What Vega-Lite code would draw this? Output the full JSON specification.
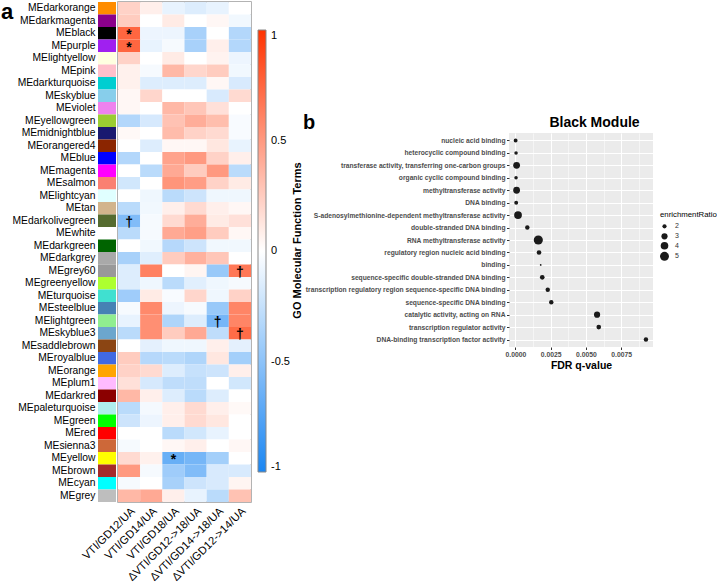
{
  "$schema": "https://vega.github.io/schema/vega-lite/v6.json",
  "padding": {"left": 1, "top": 1, "right": 0, "bottom": 0},
  "config": {"font": "Liberation Sans", "view": {"stroke": null}},
  "datasets": {
    "mods": [
      {"module": "MEdarkorange", "hex": "#FF8C00"}, {"module": "MEdarkmagenta", "hex": "#8B008B"},
      {"module": "MEblack", "hex": "#000000"}, {"module": "MEpurple", "hex": "#A020F0"},
      {"module": "MElightyellow", "hex": "#FFFFE0"}, {"module": "MEpink", "hex": "#FFC0CB"},
      {"module": "MEdarkturquoise", "hex": "#00CED1"}, {"module": "MEskyblue", "hex": "#87CEEB"},
      {"module": "MEviolet", "hex": "#EE82EE"}, {"module": "MEyellowgreen", "hex": "#9ACD32"},
      {"module": "MEmidnightblue", "hex": "#191970"}, {"module": "MEorangered4", "hex": "#8B2500"},
      {"module": "MEblue", "hex": "#0000FF"}, {"module": "MEmagenta", "hex": "#FF00FF"},
      {"module": "MEsalmon", "hex": "#FA8072"}, {"module": "MElightcyan", "hex": "#E0FFFF"},
      {"module": "MEtan", "hex": "#D2B48C"}, {"module": "MEdarkolivegreen", "hex": "#556B2F"},
      {"module": "MEwhite", "hex": "#FFFFFF"}, {"module": "MEdarkgreen", "hex": "#006400"},
      {"module": "MEdarkgrey", "hex": "#A9A9A9"}, {"module": "MEgrey60", "hex": "#999999"},
      {"module": "MEgreenyellow", "hex": "#ADFF2F"}, {"module": "MEturquoise", "hex": "#40E0D0"},
      {"module": "MEsteelblue", "hex": "#4682B4"}, {"module": "MElightgreen", "hex": "#90EE90"},
      {"module": "MEskyblue3", "hex": "#6CA6CD"}, {"module": "MEsaddlebrown", "hex": "#8B4513"},
      {"module": "MEroyalblue", "hex": "#4169E1"}, {"module": "MEorange", "hex": "#FFA500"},
      {"module": "MEplum1", "hex": "#FFBBFF"}, {"module": "MEdarkred", "hex": "#8B0000"},
      {"module": "MEpaleturquoise", "hex": "#AFEEEE"}, {"module": "MEgreen", "hex": "#00FF00"},
      {"module": "MEred", "hex": "#FF0000"}, {"module": "MEsienna3", "hex": "#CD6839"},
      {"module": "MEyellow", "hex": "#FFFF00"}, {"module": "MEbrown", "hex": "#A52A2A"},
      {"module": "MEcyan", "hex": "#00FFFF"}, {"module": "MEgrey", "hex": "#BEBEBE"}
    ],
    "heat": [
      {"m":"MEdarkorange","c":"VTI/GD12/UA","r":0.22,"s":""},{"m":"MEdarkorange","c":"VTI/GD14/UA","r":0.08,"s":""},{"m":"MEdarkorange","c":"VTI/GD18/UA","r":-0.1,"s":""},{"m":"MEdarkorange","c":"ΔVTI/GD12->18/UA","r":-0.15,"s":""},{"m":"MEdarkorange","c":"ΔVTI/GD14->18/UA","r":-0.1,"s":""},{"m":"MEdarkorange","c":"ΔVTI/GD12->14/UA","r":0,"s":""},
      {"m":"MEdarkmagenta","c":"VTI/GD12/UA","r":0.25,"s":""},{"m":"MEdarkmagenta","c":"VTI/GD14/UA","r":0,"s":""},{"m":"MEdarkmagenta","c":"VTI/GD18/UA","r":0.1,"s":""},{"m":"MEdarkmagenta","c":"ΔVTI/GD12->18/UA","r":0,"s":""},{"m":"MEdarkmagenta","c":"ΔVTI/GD14->18/UA","r":0.04,"s":""},{"m":"MEdarkmagenta","c":"ΔVTI/GD12->14/UA","r":-0.06,"s":""},
      {"m":"MEblack","c":"VTI/GD12/UA","r":0.75,"s":"*"},{"m":"MEblack","c":"VTI/GD14/UA","r":-0.08,"s":""},{"m":"MEblack","c":"VTI/GD18/UA","r":-0.08,"s":""},{"m":"MEblack","c":"ΔVTI/GD12->18/UA","r":-0.38,"s":""},{"m":"MEblack","c":"ΔVTI/GD14->18/UA","r":0,"s":""},{"m":"MEblack","c":"ΔVTI/GD12->14/UA","r":-0.33,"s":""},
      {"m":"MEpurple","c":"VTI/GD12/UA","r":0.75,"s":"*"},{"m":"MEpurple","c":"VTI/GD14/UA","r":-0.1,"s":""},{"m":"MEpurple","c":"VTI/GD18/UA","r":-0.04,"s":""},{"m":"MEpurple","c":"ΔVTI/GD12->18/UA","r":-0.38,"s":""},{"m":"MEpurple","c":"ΔVTI/GD14->18/UA","r":0.08,"s":""},{"m":"MEpurple","c":"ΔVTI/GD12->14/UA","r":-0.33,"s":""},
      {"m":"MElightyellow","c":"VTI/GD12/UA","r":0.22,"s":""},{"m":"MElightyellow","c":"VTI/GD14/UA","r":0,"s":""},{"m":"MElightyellow","c":"VTI/GD18/UA","r":0.1,"s":""},{"m":"MElightyellow","c":"ΔVTI/GD12->18/UA","r":0,"s":""},{"m":"MElightyellow","c":"ΔVTI/GD14->18/UA","r":0.06,"s":""},{"m":"MElightyellow","c":"ΔVTI/GD12->14/UA","r":-0.08,"s":""},
      {"m":"MEpink","c":"VTI/GD12/UA","r":0.07,"s":""},{"m":"MEpink","c":"VTI/GD14/UA","r":-0.04,"s":""},{"m":"MEpink","c":"VTI/GD18/UA","r":0.35,"s":""},{"m":"MEpink","c":"ΔVTI/GD12->18/UA","r":0.2,"s":""},{"m":"MEpink","c":"ΔVTI/GD14->18/UA","r":0.25,"s":""},{"m":"MEpink","c":"ΔVTI/GD12->14/UA","r":-0.06,"s":""},
      {"m":"MEdarkturquoise","c":"VTI/GD12/UA","r":0.07,"s":""},{"m":"MEdarkturquoise","c":"VTI/GD14/UA","r":-0.15,"s":""},{"m":"MEdarkturquoise","c":"VTI/GD18/UA","r":-0.15,"s":""},{"m":"MEdarkturquoise","c":"ΔVTI/GD12->18/UA","r":-0.15,"s":""},{"m":"MEdarkturquoise","c":"ΔVTI/GD14->18/UA","r":0.04,"s":""},{"m":"MEdarkturquoise","c":"ΔVTI/GD12->14/UA","r":-0.17,"s":""},
      {"m":"MEskyblue","c":"VTI/GD12/UA","r":0.04,"s":""},{"m":"MEskyblue","c":"VTI/GD14/UA","r":0.2,"s":""},{"m":"MEskyblue","c":"VTI/GD18/UA","r":0,"s":""},{"m":"MEskyblue","c":"ΔVTI/GD12->18/UA","r":0,"s":""},{"m":"MEskyblue","c":"ΔVTI/GD14->18/UA","r":-0.17,"s":""},{"m":"MEskyblue","c":"ΔVTI/GD12->14/UA","r":0.18,"s":""},
      {"m":"MEviolet","c":"VTI/GD12/UA","r":0.04,"s":""},{"m":"MEviolet","c":"VTI/GD14/UA","r":0,"s":""},{"m":"MEviolet","c":"VTI/GD18/UA","r":0.35,"s":""},{"m":"MEviolet","c":"ΔVTI/GD12->18/UA","r":0.28,"s":""},{"m":"MEviolet","c":"ΔVTI/GD14->18/UA","r":0.15,"s":""},{"m":"MEviolet","c":"ΔVTI/GD12->14/UA","r":0,"s":""},
      {"m":"MEyellowgreen","c":"VTI/GD12/UA","r":-0.33,"s":""},{"m":"MEyellowgreen","c":"VTI/GD14/UA","r":-0.18,"s":""},{"m":"MEyellowgreen","c":"VTI/GD18/UA","r":0.3,"s":""},{"m":"MEyellowgreen","c":"ΔVTI/GD12->18/UA","r":0.4,"s":""},{"m":"MEyellowgreen","c":"ΔVTI/GD14->18/UA","r":0.32,"s":""},{"m":"MEyellowgreen","c":"ΔVTI/GD12->14/UA","r":-0.03,"s":""},
      {"m":"MEmidnightblue","c":"VTI/GD12/UA","r":0.03,"s":""},{"m":"MEmidnightblue","c":"VTI/GD14/UA","r":0,"s":""},{"m":"MEmidnightblue","c":"VTI/GD18/UA","r":0.33,"s":""},{"m":"MEmidnightblue","c":"ΔVTI/GD12->18/UA","r":0.22,"s":""},{"m":"MEmidnightblue","c":"ΔVTI/GD14->18/UA","r":0.18,"s":""},{"m":"MEmidnightblue","c":"ΔVTI/GD12->14/UA","r":-0.03,"s":""},
      {"m":"MEorangered4","c":"VTI/GD12/UA","r":0,"s":""},{"m":"MEorangered4","c":"VTI/GD14/UA","r":-0.15,"s":""},{"m":"MEorangered4","c":"VTI/GD18/UA","r":0.04,"s":""},{"m":"MEorangered4","c":"ΔVTI/GD12->18/UA","r":0.04,"s":""},{"m":"MEorangered4","c":"ΔVTI/GD14->18/UA","r":0.12,"s":""},{"m":"MEorangered4","c":"ΔVTI/GD12->14/UA","r":-0.1,"s":""},
      {"m":"MEblue","c":"VTI/GD12/UA","r":-0.33,"s":""},{"m":"MEblue","c":"VTI/GD14/UA","r":0,"s":""},{"m":"MEblue","c":"VTI/GD18/UA","r":0.45,"s":""},{"m":"MEblue","c":"ΔVTI/GD12->18/UA","r":0.5,"s":""},{"m":"MEblue","c":"ΔVTI/GD14->18/UA","r":0.22,"s":""},{"m":"MEblue","c":"ΔVTI/GD12->14/UA","r":0.08,"s":""},
      {"m":"MEmagenta","c":"VTI/GD12/UA","r":0,"s":""},{"m":"MEmagenta","c":"VTI/GD14/UA","r":-0.3,"s":""},{"m":"MEmagenta","c":"VTI/GD18/UA","r":0.42,"s":""},{"m":"MEmagenta","c":"ΔVTI/GD12->18/UA","r":0.25,"s":""},{"m":"MEmagenta","c":"ΔVTI/GD14->18/UA","r":0.5,"s":""},{"m":"MEmagenta","c":"ΔVTI/GD12->14/UA","r":-0.3,"s":""},
      {"m":"MEsalmon","c":"VTI/GD12/UA","r":-0.2,"s":""},{"m":"MEsalmon","c":"VTI/GD14/UA","r":0,"s":""},{"m":"MEsalmon","c":"VTI/GD18/UA","r":0.52,"s":""},{"m":"MEsalmon","c":"ΔVTI/GD12->18/UA","r":0.48,"s":""},{"m":"MEsalmon","c":"ΔVTI/GD14->18/UA","r":0.22,"s":""},{"m":"MEsalmon","c":"ΔVTI/GD12->14/UA","r":0.1,"s":""},
      {"m":"MElightcyan","c":"VTI/GD12/UA","r":0,"s":""},{"m":"MElightcyan","c":"VTI/GD14/UA","r":-0.07,"s":""},{"m":"MElightcyan","c":"VTI/GD18/UA","r":-0.3,"s":""},{"m":"MElightcyan","c":"ΔVTI/GD12->18/UA","r":-0.22,"s":""},{"m":"MElightcyan","c":"ΔVTI/GD14->18/UA","r":-0.07,"s":""},{"m":"MElightcyan","c":"ΔVTI/GD12->14/UA","r":-0.07,"s":""},
      {"m":"MEtan","c":"VTI/GD12/UA","r":-0.3,"s":""},{"m":"MEtan","c":"VTI/GD14/UA","r":-0.06,"s":""},{"m":"MEtan","c":"VTI/GD18/UA","r":0.08,"s":""},{"m":"MEtan","c":"ΔVTI/GD12->18/UA","r":0.18,"s":""},{"m":"MEtan","c":"ΔVTI/GD14->18/UA","r":0.08,"s":""},{"m":"MEtan","c":"ΔVTI/GD12->14/UA","r":0.04,"s":""},
      {"m":"MEdarkolivegreen","c":"VTI/GD12/UA","r":-0.55,"s":"†"},{"m":"MEdarkolivegreen","c":"VTI/GD14/UA","r":-0.04,"s":""},{"m":"MEdarkolivegreen","c":"VTI/GD18/UA","r":0.18,"s":""},{"m":"MEdarkolivegreen","c":"ΔVTI/GD12->18/UA","r":0.4,"s":""},{"m":"MEdarkolivegreen","c":"ΔVTI/GD14->18/UA","r":0.1,"s":""},{"m":"MEdarkolivegreen","c":"ΔVTI/GD12->14/UA","r":0.15,"s":""},
      {"m":"MEwhite","c":"VTI/GD12/UA","r":-0.3,"s":""},{"m":"MEwhite","c":"VTI/GD14/UA","r":-0.04,"s":""},{"m":"MEwhite","c":"VTI/GD18/UA","r":0.42,"s":""},{"m":"MEwhite","c":"ΔVTI/GD12->18/UA","r":0.47,"s":""},{"m":"MEwhite","c":"ΔVTI/GD14->18/UA","r":0.25,"s":""},{"m":"MEwhite","c":"ΔVTI/GD12->14/UA","r":0.04,"s":""},
      {"m":"MEdarkgreen","c":"VTI/GD12/UA","r":0,"s":""},{"m":"MEdarkgreen","c":"VTI/GD14/UA","r":-0.06,"s":""},{"m":"MEdarkgreen","c":"VTI/GD18/UA","r":-0.32,"s":""},{"m":"MEdarkgreen","c":"ΔVTI/GD12->18/UA","r":-0.22,"s":""},{"m":"MEdarkgreen","c":"ΔVTI/GD14->18/UA","r":-0.06,"s":""},{"m":"MEdarkgreen","c":"ΔVTI/GD12->14/UA","r":-0.06,"s":""},
      {"m":"MEdarkgrey","c":"VTI/GD12/UA","r":-0.38,"s":""},{"m":"MEdarkgrey","c":"VTI/GD14/UA","r":-0.14,"s":""},{"m":"MEdarkgrey","c":"VTI/GD18/UA","r":0.25,"s":""},{"m":"MEdarkgrey","c":"ΔVTI/GD12->18/UA","r":0.38,"s":""},{"m":"MEdarkgrey","c":"ΔVTI/GD14->18/UA","r":0.28,"s":""},{"m":"MEdarkgrey","c":"ΔVTI/GD12->14/UA","r":0,"s":""},
      {"m":"MEgrey60","c":"VTI/GD12/UA","r":-0.15,"s":""},{"m":"MEgrey60","c":"VTI/GD14/UA","r":0.62,"s":""},{"m":"MEgrey60","c":"VTI/GD18/UA","r":0,"s":""},{"m":"MEgrey60","c":"ΔVTI/GD12->18/UA","r":0.05,"s":""},{"m":"MEgrey60","c":"ΔVTI/GD14->18/UA","r":-0.45,"s":""},{"m":"MEgrey60","c":"ΔVTI/GD12->14/UA","r":0.66,"s":"†"},
      {"m":"MEgreenyellow","c":"VTI/GD12/UA","r":-0.15,"s":""},{"m":"MEgreenyellow","c":"VTI/GD14/UA","r":-0.07,"s":""},{"m":"MEgreenyellow","c":"VTI/GD18/UA","r":-0.3,"s":""},{"m":"MEgreenyellow","c":"ΔVTI/GD12->18/UA","r":-0.13,"s":""},{"m":"MEgreenyellow","c":"ΔVTI/GD14->18/UA","r":-0.07,"s":""},{"m":"MEgreenyellow","c":"ΔVTI/GD12->14/UA","r":-0.04,"s":""},
      {"m":"MEturquoise","c":"VTI/GD12/UA","r":-0.42,"s":""},{"m":"MEturquoise","c":"VTI/GD14/UA","r":0.1,"s":""},{"m":"MEturquoise","c":"VTI/GD18/UA","r":-0.03,"s":""},{"m":"MEturquoise","c":"ΔVTI/GD12->18/UA","r":0.2,"s":""},{"m":"MEturquoise","c":"ΔVTI/GD14->18/UA","r":-0.07,"s":""},{"m":"MEturquoise","c":"ΔVTI/GD12->14/UA","r":0.22,"s":""},
      {"m":"MEsteelblue","c":"VTI/GD12/UA","r":-0.04,"s":""},{"m":"MEsteelblue","c":"VTI/GD14/UA","r":0.58,"s":""},{"m":"MEsteelblue","c":"VTI/GD18/UA","r":-0.08,"s":""},{"m":"MEsteelblue","c":"ΔVTI/GD12->18/UA","r":-0.04,"s":""},{"m":"MEsteelblue","c":"ΔVTI/GD14->18/UA","r":-0.45,"s":""},{"m":"MEsteelblue","c":"ΔVTI/GD12->14/UA","r":0.6,"s":""},
      {"m":"MElightgreen","c":"VTI/GD12/UA","r":-0.1,"s":""},{"m":"MElightgreen","c":"VTI/GD14/UA","r":0.55,"s":""},{"m":"MElightgreen","c":"VTI/GD18/UA","r":-0.35,"s":""},{"m":"MElightgreen","c":"ΔVTI/GD12->18/UA","r":-0.15,"s":""},{"m":"MElightgreen","c":"ΔVTI/GD14->18/UA","r":-0.6,"s":"†"},{"m":"MElightgreen","c":"ΔVTI/GD12->14/UA","r":0.6,"s":""},
      {"m":"MEskyblue3","c":"VTI/GD12/UA","r":-0.3,"s":""},{"m":"MEskyblue3","c":"VTI/GD14/UA","r":0.55,"s":""},{"m":"MEskyblue3","c":"VTI/GD18/UA","r":0.25,"s":""},{"m":"MEskyblue3","c":"ΔVTI/GD12->18/UA","r":0.42,"s":""},{"m":"MEskyblue3","c":"ΔVTI/GD14->18/UA","r":-0.28,"s":""},{"m":"MEskyblue3","c":"ΔVTI/GD12->14/UA","r":0.72,"s":"†"},
      {"m":"MEsaddlebrown","c":"VTI/GD12/UA","r":0,"s":""},{"m":"MEsaddlebrown","c":"VTI/GD14/UA","r":-0.12,"s":""},{"m":"MEsaddlebrown","c":"VTI/GD18/UA","r":-0.07,"s":""},{"m":"MEsaddlebrown","c":"ΔVTI/GD12->18/UA","r":-0.07,"s":""},{"m":"MEsaddlebrown","c":"ΔVTI/GD14->18/UA","r":0.08,"s":""},{"m":"MEsaddlebrown","c":"ΔVTI/GD12->14/UA","r":-0.12,"s":""},
      {"m":"MEroyalblue","c":"VTI/GD12/UA","r":0.25,"s":""},{"m":"MEroyalblue","c":"VTI/GD14/UA","r":-0.32,"s":""},{"m":"MEroyalblue","c":"VTI/GD18/UA","r":-0.3,"s":""},{"m":"MEroyalblue","c":"ΔVTI/GD12->18/UA","r":-0.35,"s":""},{"m":"MEroyalblue","c":"ΔVTI/GD14->18/UA","r":0.12,"s":""},{"m":"MEroyalblue","c":"ΔVTI/GD12->14/UA","r":-0.4,"s":""},
      {"m":"MEorange","c":"VTI/GD12/UA","r":0.22,"s":""},{"m":"MEorange","c":"VTI/GD14/UA","r":0.18,"s":""},{"m":"MEorange","c":"VTI/GD18/UA","r":-0.15,"s":""},{"m":"MEorange","c":"ΔVTI/GD12->18/UA","r":-0.25,"s":""},{"m":"MEorange","c":"ΔVTI/GD14->18/UA","r":-0.22,"s":""},{"m":"MEorange","c":"ΔVTI/GD12->14/UA","r":0.08,"s":""},
      {"m":"MEplum1","c":"VTI/GD12/UA","r":0.15,"s":""},{"m":"MEplum1","c":"VTI/GD14/UA","r":-0.18,"s":""},{"m":"MEplum1","c":"VTI/GD18/UA","r":-0.28,"s":""},{"m":"MEplum1","c":"ΔVTI/GD12->18/UA","r":-0.28,"s":""},{"m":"MEplum1","c":"ΔVTI/GD14->18/UA","r":0,"s":""},{"m":"MEplum1","c":"ΔVTI/GD12->14/UA","r":-0.2,"s":""},
      {"m":"MEdarkred","c":"VTI/GD12/UA","r":0.35,"s":""},{"m":"MEdarkred","c":"VTI/GD14/UA","r":0.08,"s":""},{"m":"MEdarkred","c":"VTI/GD18/UA","r":-0.15,"s":""},{"m":"MEdarkred","c":"ΔVTI/GD12->18/UA","r":-0.3,"s":""},{"m":"MEdarkred","c":"ΔVTI/GD14->18/UA","r":-0.15,"s":""},{"m":"MEdarkred","c":"ΔVTI/GD12->14/UA","r":0,"s":""},
      {"m":"MEpaleturquoise","c":"VTI/GD12/UA","r":-0.3,"s":""},{"m":"MEpaleturquoise","c":"VTI/GD14/UA","r":-0.05,"s":""},{"m":"MEpaleturquoise","c":"VTI/GD18/UA","r":0.08,"s":""},{"m":"MEpaleturquoise","c":"ΔVTI/GD12->18/UA","r":0.18,"s":""},{"m":"MEpaleturquoise","c":"ΔVTI/GD14->18/UA","r":0.08,"s":""},{"m":"MEpaleturquoise","c":"ΔVTI/GD12->14/UA","r":0.03,"s":""},
      {"m":"MEgreen","c":"VTI/GD12/UA","r":-0.22,"s":""},{"m":"MEgreen","c":"VTI/GD14/UA","r":-0.08,"s":""},{"m":"MEgreen","c":"VTI/GD18/UA","r":0.08,"s":""},{"m":"MEgreen","c":"ΔVTI/GD12->18/UA","r":0.18,"s":""},{"m":"MEgreen","c":"ΔVTI/GD14->18/UA","r":0.12,"s":""},{"m":"MEgreen","c":"ΔVTI/GD12->14/UA","r":0,"s":""},
      {"m":"MEred","c":"VTI/GD12/UA","r":0,"s":""},{"m":"MEred","c":"VTI/GD14/UA","r":0,"s":""},{"m":"MEred","c":"VTI/GD18/UA","r":-0.3,"s":""},{"m":"MEred","c":"ΔVTI/GD12->18/UA","r":-0.2,"s":""},{"m":"MEred","c":"ΔVTI/GD14->18/UA","r":-0.1,"s":""},{"m":"MEred","c":"ΔVTI/GD12->14/UA","r":0,"s":""},
      {"m":"MEsienna3","c":"VTI/GD12/UA","r":-0.04,"s":""},{"m":"MEsienna3","c":"VTI/GD14/UA","r":0,"s":""},{"m":"MEsienna3","c":"VTI/GD18/UA","r":0.04,"s":""},{"m":"MEsienna3","c":"ΔVTI/GD12->18/UA","r":0.08,"s":""},{"m":"MEsienna3","c":"ΔVTI/GD14->18/UA","r":0,"s":""},{"m":"MEsienna3","c":"ΔVTI/GD12->14/UA","r":0.04,"s":""},
      {"m":"MEyellow","c":"VTI/GD12/UA","r":0.18,"s":""},{"m":"MEyellow","c":"VTI/GD14/UA","r":0.07,"s":""},{"m":"MEyellow","c":"VTI/GD18/UA","r":-0.66,"s":"*"},{"m":"MEyellow","c":"ΔVTI/GD12->18/UA","r":-0.6,"s":""},{"m":"MEyellow","c":"ΔVTI/GD14->18/UA","r":-0.4,"s":""},{"m":"MEyellow","c":"ΔVTI/GD12->14/UA","r":0,"s":""},
      {"m":"MEbrown","c":"VTI/GD12/UA","r":0.5,"s":""},{"m":"MEbrown","c":"VTI/GD14/UA","r":-0.04,"s":""},{"m":"MEbrown","c":"VTI/GD18/UA","r":-0.42,"s":""},{"m":"MEbrown","c":"ΔVTI/GD12->18/UA","r":-0.55,"s":""},{"m":"MEbrown","c":"ΔVTI/GD14->18/UA","r":-0.17,"s":""},{"m":"MEbrown","c":"ΔVTI/GD12->14/UA","r":-0.17,"s":""},
      {"m":"MEcyan","c":"VTI/GD12/UA","r":-0.04,"s":""},{"m":"MEcyan","c":"VTI/GD14/UA","r":0,"s":""},{"m":"MEcyan","c":"VTI/GD18/UA","r":-0.38,"s":""},{"m":"MEcyan","c":"ΔVTI/GD12->18/UA","r":-0.22,"s":""},{"m":"MEcyan","c":"ΔVTI/GD14->18/UA","r":-0.17,"s":""},{"m":"MEcyan","c":"ΔVTI/GD12->14/UA","r":0.05,"s":""},
      {"m":"MEgrey","c":"VTI/GD12/UA","r":0.35,"s":""},{"m":"MEgrey","c":"VTI/GD14/UA","r":0.42,"s":""},{"m":"MEgrey","c":"VTI/GD18/UA","r":0.08,"s":""},{"m":"MEgrey","c":"ΔVTI/GD12->18/UA","r":-0.1,"s":""},{"m":"MEgrey","c":"ΔVTI/GD14->18/UA","r":-0.3,"s":""},{"m":"MEgrey","c":"ΔVTI/GD12->14/UA","r":0.3,"s":""}
    ],
    "go": [
      {"term": "nucleic acid binding", "fdr": 0.00001, "ratio": 1.9},
      {"term": "heterocyclic compound binding", "fdr": 0.00004, "ratio": 1.75},
      {"term": "transferase activity, transferring one-carbon groups", "fdr": 0.00008, "ratio": 3.4},
      {"term": "organic cyclic compound binding", "fdr": 0.00004, "ratio": 1.75},
      {"term": "methyltransferase activity", "fdr": 0.00008, "ratio": 3.4},
      {"term": "DNA binding", "fdr": 0.00005, "ratio": 1.9},
      {"term": "S-adenosylmethionine-dependent methyltransferase activity", "fdr": 0.00018, "ratio": 4.1},
      {"term": "double-stranded DNA binding", "fdr": 0.00084, "ratio": 2.1},
      {"term": "RNA methyltransferase activity", "fdr": 0.00162, "ratio": 5.2},
      {"term": "regulatory region nucleic acid binding", "fdr": 0.00167, "ratio": 2.2},
      {"term": "binding", "fdr": 0.00179, "ratio": 1.3},
      {"term": "sequence-specific double-stranded DNA binding", "fdr": 0.0019, "ratio": 2.2},
      {"term": "transcription regulatory region sequence-specific DNA binding", "fdr": 0.00229, "ratio": 2.1},
      {"term": "sequence-specific DNA binding", "fdr": 0.00254, "ratio": 2.1},
      {"term": "catalytic activity, acting on RNA", "fdr": 0.00579, "ratio": 3.0},
      {"term": "transcription regulator activity", "fdr": 0.00591, "ratio": 2.2},
      {"term": "DNA-binding transcription factor activity", "fdr": 0.00926, "ratio": 2.1}
    ]
  },
  "hconcat": [
    {
      "hconcat": [
        {
          "width": 18,
          "height": 500,
          "title": {"text": "a", "anchor": "start", "frame": "bounds", "fontSize": 22, "fontWeight": "bold", "color": "#000", "dx": -11, "dy": 22, "offset": 0},
          "data": {"name": "mods"},
          "mark": {"type": "rect"},
          "encoding": {
            "y": {"field": "module", "type": "nominal", "sort": null, "axis": {"title": null, "ticks": false, "domain": false, "labelFontSize": 10.3, "labelColor": "#000", "labelPadding": 3}},
            "fill": {"field": "hex", "type": "nominal", "scale": null}
          }
        },
        {
          "width": 133,
          "height": 500,
          "view": {"stroke": "#9a9a9a", "strokeWidth": 1.5},
          "data": {"name": "heat"},
          "encoding": {
            "x": {"field": "c", "type": "nominal", "sort": null, "axis": {"title": null, "labelAngle": -45, "labelFontSize": 11.2, "labelColor": "#000", "ticks": false, "domain": false, "labelPadding": 3}},
            "y": {"field": "m", "type": "nominal", "sort": null, "axis": null}
          },
          "layer": [
            {
              "mark": {"type": "rect"},
              "encoding": {
                "color": {
                  "field": "r", "type": "quantitative",
                  "scale": {"domain": [-1, 0, 1], "range": ["#1a86f2", "#ffffff", "#ff3300"], "interpolate": "rgb"},
                  "legend": {"orient": "none", "legendX": 140, "legendY": 28, "title": null, "direction": "vertical", "gradientLength": 442, "gradientThickness": 8, "values": [-1, -0.5, 0, 0.5, 1], "labelFontSize": 11, "labelColor": "#000", "labelOffset": 5, "gradientStrokeColor": "#888", "gradientStrokeWidth": 1, "labelExpr": "'' + datum.value"}
                }
              }
            },
            {
              "mark": {"type": "text", "fontSize": 14, "fontWeight": "bold", "color": "#000", "baseline": "middle", "dy": 2},
              "encoding": {"text": {"field": "s"}}
            }
          ]
        }
      ],
      "spacing": 2,
      "bounds": "flush",
      "resolve": {"scale": {"color": "independent"}, "legend": {"color": "independent"}}
    },
    {
      "vconcat": [
        {
          "width": 10,
          "height": 110,
          "view": {"stroke": "transparent"},
          "data": {"values": []},
          "mark": "point"
        },
        {
          "width": 144,
          "height": 214,
          "title": {"text": "b", "anchor": "start", "frame": "bounds", "fontSize": 20, "fontWeight": "bold", "color": "#000", "dx": 12, "dy": 18, "offset": 0},
          "view": {"fill": "#ebebeb", "stroke": null},
          "data": {"name": "go"},
          "layer": [
            {
              "mark": {"type": "circle", "color": "#1a1a1a", "opacity": 1},
              "encoding": {
                "x": {
                  "field": "fdr", "type": "quantitative",
                  "scale": {"domain": [-0.00046, 0.00976], "nice": false, "zero": false},
                  "axis": {
                    "title": "FDR q-value", "titleFontSize": 10.5, "titleFontWeight": "bold", "titleColor": "#000", "titlePadding": 3,
                    "values": [0, 0.00125, 0.0025, 0.00375, 0.005, 0.00625, 0.0075, 0.00875],
                    "labelExpr": "abs(datum.value/0.0025 - round(datum.value/0.0025)) < 0.001 ? format(datum.value, '.4f') : ''",
                    "labelFontSize": 6.8, "labelFontWeight": "bold", "labelColor": "#4d4d4d", "labelPadding": 1.5,
                    "domain": false, "tickSize": 2.5, "tickColor": "#333",
                    "tickOpacity": {"condition": {"test": "abs(datum.value/0.0025 - round(datum.value/0.0025)) < 0.001", "value": 1}, "value": 0},
                    "grid": true, "gridColor": "#ffffff",
                    "gridWidth": {"condition": {"test": "abs(datum.value/0.0025 - round(datum.value/0.0025)) < 0.001", "value": 1.1}, "value": 0.5}
                  }
                },
                "y": {
                  "field": "term", "type": "nominal", "sort": null,
                  "scale": {"type": "point", "padding": 0.6},
                  "axis": {
                    "title": "GO Molecular Function Terms", "titleFontSize": 11, "titleFontWeight": "bold", "titleColor": "#000", "titlePadding": 7,
                    "labelFontSize": 6.7, "labelFontWeight": "bold", "labelColor": "#4d4d4d", "labelPadding": 1.5, "labelLimit": 400,
                    "domain": false, "tickSize": 2.5, "tickColor": "#333",
                    "grid": true, "gridColor": "#ffffff", "gridWidth": 1.1
                  }
                },
                "size": {
                  "field": "ratio", "type": "quantitative",
                  "scale": {"domain": [1.3, 5.3], "range": [3, 85], "zero": false},
                  "legend": {"orient": "none", "legendX": 151, "legendY": 209, "title": "enrichmentRatio", "titleFontSize": 7.8, "titleFontWeight": "normal", "titleColor": "#000", "titlePadding": 4, "labelFontSize": 7, "labelColor": "#333", "values": [2, 3, 4, 5], "symbolType": "circle", "symbolFillColor": "#1a1a1a", "symbolStrokeWidth": 0, "rowPadding": 2, "labelOffset": 6}
                }
              }
            },
            {
              "mark": {"type": "rule", "opacity": 0},
              "encoding": {
                "x": {
                  "field": "fdr", "type": "quantitative",
                  "scale": {"domain": [-0.00046, 0.00976], "nice": false, "zero": false},
                  "axis": {"orient": "top", "title": "Black Module", "labels": false, "ticks": false, "domain": false, "grid": false, "titleFontSize": 14, "titleFontWeight": "bold", "titleColor": "#000", "titlePadding": 4, "titleX": 85}
                }
              }
            }
          ],
          "resolve": {"scale": {"x": "independent"}, "axis": {"x": "independent"}}
        }
      ],
      "spacing": 0
    }
  ],
  "spacing": 0,
  "resolve": {"scale": {"color": "independent", "size": "independent"}, "legend": {"color": "independent", "size": "independent"}}
}
